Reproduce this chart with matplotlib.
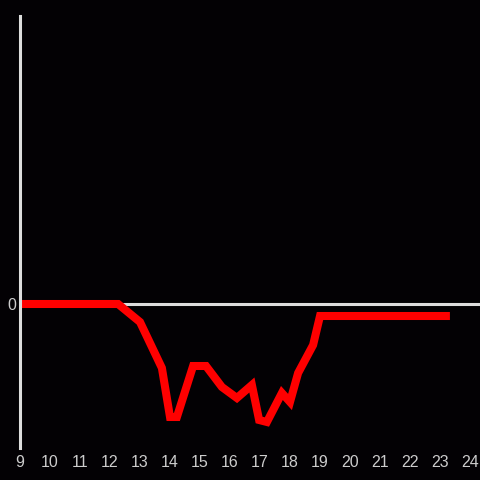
import matplotlib
matplotlib.use('Agg')
import matplotlib.pyplot as plt

# hours of day and values
hours = [9, 12.27, 13.0, 13.73, 14.0, 14.23, 14.77, 15.2, 15.73, 16.23, 16.73,
         16.97, 17.23, 17.73, 18.0, 18.27, 18.77, 19.0, 23.33]
values = [0, 0, -0.18, -0.64, -1.13, -1.13, -0.62, -0.62, -0.83, -0.94, -0.81,
          -1.16, -1.18, -0.89, -0.98, -0.69, -0.41, -0.12, -0.12]
xticks = list(range(9, 25))

bg = '#030104'
axis_col = '#dddddd'

fig = plt.figure(figsize=(4.8, 4.8), dpi=100, facecolor=bg)
ax = fig.add_axes([20/480, 32/480, 460/480, 432/480])
ax.set_facecolor(bg)

ax.axhline(0, color=axis_col, lw=2.2, zorder=1)
ax.plot(hours, values, color='#ff0000', lw=5.8, solid_joinstyle='miter',
        solid_capstyle='butt', zorder=2)

ax.set_xlim(9, 24.333)
ax.set_ylim(-1.44, 2.88)
ax.set_xticks(xticks)
ax.set_xticklabels([str(t) for t in xticks])
ax.set_yticks([0])
ax.set_yticklabels(['0'])
ax.tick_params(length=0, colors='#cccccc', labelsize=11.5, pad=5)
for lbl in ax.get_xticklabels() + ax.get_yticklabels():
    lbl.set_family('Liberation Sans')
ax.tick_params(axis='y', pad=3)

for s in ['top', 'right', 'bottom']:
    ax.spines[s].set_visible(False)
ax.spines['left'].set_color(axis_col)
ax.spines['left'].set_linewidth(2.2)

fig.savefig('out.png', dpi=100, facecolor=bg)
